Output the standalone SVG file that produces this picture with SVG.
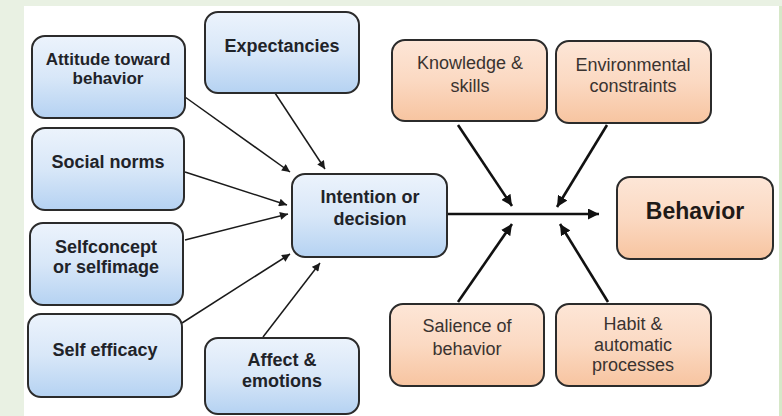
<svg xmlns="http://www.w3.org/2000/svg" width="782" height="416" viewBox="0 0 782 416">
  <style>
    .blue { fill: url(#gBlue); stroke: #2b2b2b; stroke-width: 2; }
    .orange { fill: url(#gOrange); stroke: #2b2b2b; stroke-width: 2; }
    .tb { font-family: "Liberation Sans", Arial, sans-serif; font-weight: bold; font-size: 18px; fill: #1f2329; text-anchor: middle; }
    .to { font-family: "Liberation Sans", Arial, sans-serif; font-size: 18px; fill: #3a3330; text-anchor: middle; }
    .big { font-size: 23px; fill: #1f1a18; }
    .thin { stroke: #1a1a1a; stroke-width: 1.5; fill: none; marker-end: url(#headS); }
    .thick { stroke: #111; stroke-width: 2.6; fill: none; marker-end: url(#headL); }
  </style>
  <defs>
    <linearGradient id="gBlue" x1="0" y1="0" x2="0" y2="1">
      <stop offset="0" stop-color="#ecf3fc"/>
      <stop offset="0.5" stop-color="#d8e7f8"/>
      <stop offset="1" stop-color="#b5d2f2"/>
    </linearGradient>
    <linearGradient id="gOrange" x1="0" y1="0" x2="0" y2="1">
      <stop offset="0" stop-color="#fde6d7"/>
      <stop offset="0.5" stop-color="#fbd9c2"/>
      <stop offset="1" stop-color="#f7c4a0"/>
    </linearGradient>
    <marker id="headS" viewBox="0 0 10 10" refX="10" refY="5" markerWidth="9" markerHeight="8" markerUnits="userSpaceOnUse" orient="auto">
      <path d="M0,0 L10,5 L0,10 z" fill="#1a1a1a"/>
    </marker>
    <marker id="headL" viewBox="0 0 10 10" refX="10" refY="5" markerWidth="11" markerHeight="11" markerUnits="userSpaceOnUse" orient="auto">
      <path d="M0,0 L10,5 L0,10 z" fill="#111"/>
    </marker>
  </defs>

  <!-- page background and white panel -->
  <rect x="0" y="0" width="782" height="416" fill="#e9f1e3"/>
  <rect x="24" y="6" width="756" height="410" fill="#ffffff"/>
  <rect x="779" y="6" width="3" height="410" fill="#d6e8c8"/>

  <!-- connectors -->
  <g id="connectors">
    <line class="thin" x1="185" y1="97" x2="290" y2="172"/>
    <line class="thin" x1="275" y1="93" x2="325" y2="169"/>
    <line class="thin" x1="185" y1="172" x2="287" y2="205"/>
    <line class="thin" x1="185" y1="240" x2="288" y2="214"/>
    <line class="thin" x1="182" y1="323" x2="290" y2="254"/>
    <line class="thin" x1="263" y1="337" x2="320" y2="263"/>
    <line class="thick" x1="447" y1="214" x2="599" y2="214"/>
    <line class="thick" x1="458" y1="125" x2="512" y2="206"/>
    <line class="thick" x1="607" y1="125" x2="557" y2="207"/>
    <line class="thick" x1="458" y1="302" x2="512" y2="224"/>
    <line class="thick" x1="608" y1="302" x2="560" y2="224"/>
  </g>

  <!-- blue factors -->
  <g id="attitude">
    <rect class="blue" x="32" y="36" width="153" height="82" rx="13"/>
    <text class="tb" x="108" y="65" style="font-size:17px">Attitude toward</text>
    <text class="tb" x="108" y="84" style="font-size:17px">behavior</text>
  </g>
  <g id="expectancies">
    <rect class="blue" x="205" y="12" width="154" height="81" rx="13"/>
    <text class="tb" x="282" y="52">Expectancies</text>
  </g>
  <g id="social-norms">
    <rect class="blue" x="32" y="128" width="152" height="82" rx="13"/>
    <text class="tb" x="108" y="168">Social norms</text>
  </g>
  <g id="selfconcept">
    <rect class="blue" x="30" y="223" width="153" height="82" rx="13"/>
    <text class="tb" x="106" y="253">Selfconcept</text>
    <text class="tb" x="106" y="273">or selfimage</text>
  </g>
  <g id="self-efficacy">
    <rect class="blue" x="28" y="314" width="154" height="83" rx="13"/>
    <text class="tb" x="105" y="356">Self efficacy</text>
  </g>
  <g id="affect">
    <rect class="blue" x="205" y="338" width="154" height="76" rx="13"/>
    <text class="tb" x="282" y="366">Affect &amp;</text>
    <text class="tb" x="282" y="387">emotions</text>
  </g>
  <g id="intention">
    <rect class="blue" x="292" y="174" width="155" height="83" rx="13"/>
    <text class="tb" x="370" y="203">Intention or</text>
    <text class="tb" x="370" y="225">decision</text>
  </g>

  <!-- orange factors -->
  <g id="knowledge">
    <rect class="orange" x="392" y="40" width="155" height="81" rx="13"/>
    <text class="to" x="470" y="69">Knowledge &amp;</text>
    <text class="to" x="470" y="92">skills</text>
  </g>
  <g id="environmental">
    <rect class="orange" x="556" y="41" width="155" height="82" rx="13"/>
    <text class="to" x="633" y="71">Environmental</text>
    <text class="to" x="633" y="92">constraints</text>
  </g>
  <g id="behavior">
    <rect class="orange" x="617" y="177" width="156" height="82" rx="13"/>
    <text class="tb big" x="695" y="219">Behavior</text>
  </g>
  <g id="salience">
    <rect class="orange" x="390" y="304" width="154" height="82" rx="13"/>
    <text class="to" x="467" y="332">Salience of</text>
    <text class="to" x="467" y="355">behavior</text>
  </g>
  <g id="habit">
    <rect class="orange" x="556" y="304" width="155" height="82" rx="13"/>
    <text class="to" x="633" y="330">Habit &amp;</text>
    <text class="to" x="633" y="351">automatic</text>
    <text class="to" x="633" y="371">processes</text>
  </g>
</svg>
